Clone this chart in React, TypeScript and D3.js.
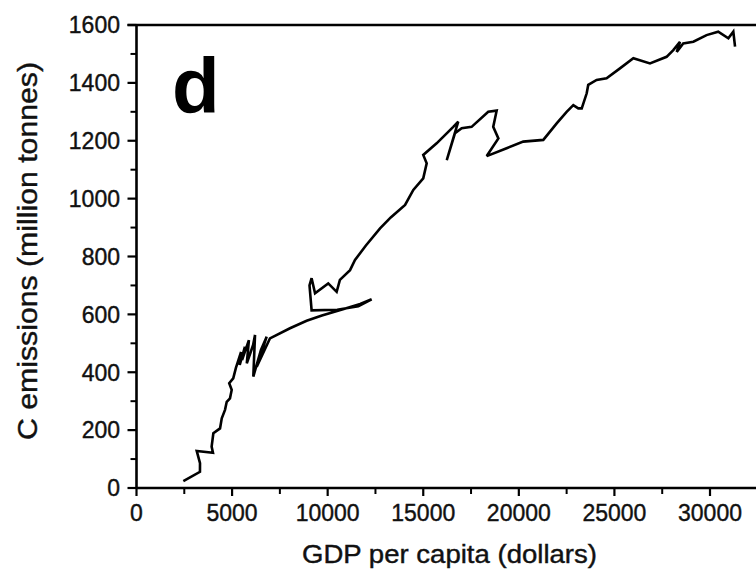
import React from "react";
import * as d3 from "d3";

const gdp = [
  2450, 3320, 3322, 3150, 4000, 3930, 4020, 4370, 4460, 4630, 4720, 4890, 4980, 4850, 5060,
  5200, 5470, 5400, 5670, 5520, 5880, 5770, 6100, 6200, 6110, 6510, 6810, 6290, 6980,
  8030, 8900, 9700, 10800, 11700, 12300, 11600, 10500, 9160, 9050, 9160, 9340, 10030, 10470,
  10640, 11170, 11430, 12000, 12740, 13300, 14050, 14480, 15000, 15180, 15000, 15700, 16570,
  16830, 16230, 16660, 17010, 17530, 18400, 18840, 18660, 18930, 18320, 19360, 20230, 21280,
  21980, 22500, 22850, 23110, 23290, 23550, 23630, 24070, 24590, 25290, 25990, 26860, 27730,
  28080, 28430, 28260, 28600, 29130, 29820, 30430, 30960, 31220, 31310,
];
const emissions = [
  24, 56, 86, 128, 122, 143, 189, 206, 241, 270, 298, 310, 339, 362, 379,
  415, 470, 425, 488, 442, 511, 431, 494, 529, 385, 477, 523, 419, 517,
  552, 578, 596, 618, 636, 652, 628, 616, 614, 700, 725, 673, 707, 678,
  719, 753, 788, 838, 897, 935, 978, 1030, 1070, 1122, 1151, 1191, 1248,
  1266, 1133, 1226, 1243, 1248, 1300, 1304, 1248, 1208, 1147, 1174, 1197, 1203,
  1260, 1300, 1323, 1312, 1312, 1364, 1393, 1410, 1416, 1450, 1485, 1467, 1490,
  1513, 1542, 1507, 1536, 1542, 1565, 1577, 1554, 1577, 1525,
];
const xTicks = [0, 5000, 10000, 15000, 20000, 25000, 30000];
const xMinor = [2500, 7500, 12500, 17500, 22500, 27500];
const yTicks = [0, 200, 400, 600, 800, 1000, 1200, 1400, 1600];
const yMinor = [100, 300, 500, 700, 900, 1100, 1300, 1500];
const xLabel = "GDP per capita (dollars)";
const yLabel = "C emissions (million tonnes)";
const panel = "d";

const W = 756;
const H = 574;
const FONT = "'Liberation Sans', Arial, Helvetica, sans-serif";

export default function App() {
  const x = d3.scaleLinear().domain([0, 30000]).range([136.5, 710]);
  const y = d3.scaleLinear().domain([0, 1600]).range([488, 25]);
  const pts: [number, number][] = gdp.map((g, i) => [g, emissions[i]]);
  const line = d3
    .line<[number, number]>()
    .x((d) => x(d[0]))
    .y((d) => y(d[1]));
  const x0 = x(0);
  const y0 = y(0);
  const yTop = y(1600);
  const textStroke = { stroke: "#111", strokeWidth: 0.4 };
  return (
    <svg
      width={W}
      height={H}
      style={{ position: "absolute", left: 0, top: 0, background: "#fff" }}
      fontFamily={FONT}
    >
      <rect x={0} y={0} width={W} height={H} fill="#fff" />
      <path d={line(pts) || ""} fill="none" stroke="#000" strokeWidth={2.6} strokeLinejoin="miter" strokeMiterlimit={3} />
      {/* frame */}
      <line x1={x0} x2={W + 10} y1={y0} y2={y0} stroke="#000" strokeWidth={2.6} />
      <line x1={x0 - 9} x2={W + 10} y1={yTop} y2={yTop} stroke="#000" strokeWidth={2.6} />
      <line x1={x0} x2={x0} y1={yTop} y2={y0} stroke="#000" strokeWidth={2.6} />
      {xTicks.map((t) => (
        <g key={"xt" + t}>
          <line x1={x(t)} x2={x(t)} y1={y0} y2={y0 + 8} stroke="#000" strokeWidth={2.2} />
          <text x={x(t)} y={521} textAnchor="middle" fontSize={23} fill="#111" {...textStroke}>
            {t}
          </text>
        </g>
      ))}
      {xMinor.map((t) => (
        <line key={"xm" + t} x1={x(t)} x2={x(t)} y1={y0} y2={y0 + 6} stroke="#000" strokeWidth={2} />
      ))}
      {yTicks.map((t) => (
        <g key={"yt" + t}>
          <line x1={x0 - 9} x2={x0} y1={y(t)} y2={y(t)} stroke="#000" strokeWidth={2.2} />
          <text x={120} y={y(t)} dy="0.36em" textAnchor="end" fontSize={23} fill="#111" {...textStroke}>
            {t}
          </text>
        </g>
      ))}
      {yMinor.map((t) => (
        <line key={"ym" + t} x1={x0 - 6} x2={x0} y1={y(t)} y2={y(t)} stroke="#000" strokeWidth={2} />
      ))}
      <text x={449.5} y={563} textAnchor="middle" fontSize={25} textLength={295} lengthAdjust="spacingAndGlyphs" fill="#111" {...textStroke}>
        {xLabel}
      </text>
      <text
        transform={`translate(37,251) rotate(-90)`}
        textAnchor="middle"
        fontSize={28}
        textLength={378}
        lengthAdjust="spacingAndGlyphs"
        fill="#111"
        {...textStroke}
      >
        {yLabel}
      </text>
      <text x={172} y={113} fontSize={78} fontWeight="bold" fill="#000">
        {panel}
      </text>
    </svg>
  );
}
